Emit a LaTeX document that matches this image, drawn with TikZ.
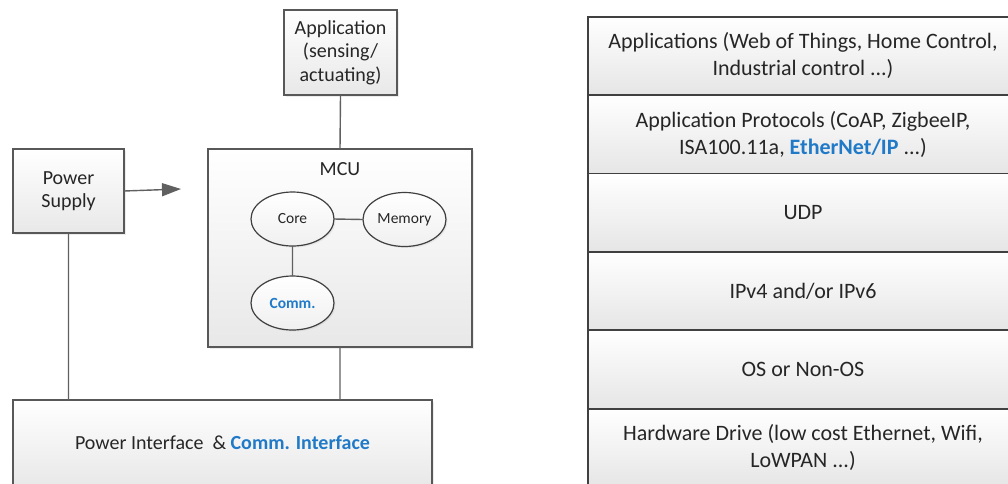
\documentclass[tikz,border=0pt]{standalone}
\usepackage{fontspec}
\setmainfont{Carlito}
\usetikzlibrary{positioning,shapes.geometric,arrows.meta,shadows}
\newcommand{\retegSzelesseg}{430pt}
\newcommand{\retegMagassag}{78.4pt}
\newcommand{\ellipszisSzel}{83pt}
\newcommand{\ellipszisMag}{54pt}
\definecolor{kekSzoveg}{RGB}{32,122,200}
\definecolor{keretSzurke}{RGB}{88,88,88}
\definecolor{vonalSzurke}{RGB}{96,96,96}
\tikzset{
	doboz/.style={draw=keretSzurke,line width=1.3pt,top color=white,bottom color=black!9,
		text=black!85,align=center,inner sep=0pt,outer sep=0pt,
		font=\fontsize{20}{23.5}\selectfont,
		drop shadow={opacity=0.15,shadow xshift=2pt,shadow yshift=-2pt}},
	resz/.style={ellipse,draw=black!75,line width=1.2pt,top color=white,bottom color=black!6,
		text=black!85,minimum width=\ellipszisSzel,minimum height=\ellipszisMag,inner sep=0pt,outer sep=0pt,
		font=\fontsize{15.5}{18}\selectfont,
		drop shadow={opacity=0.12,shadow xshift=1.5pt,shadow yshift=-1.5pt}},
	reteg/.style={draw=black!75,line width=1.8pt,top color=white,bottom color=black!10,
		text=black!85,align=center,inner sep=0pt,outer sep=0pt,
		minimum width=\retegSzelesseg,minimum height=\retegMagassag,
		font=\fontsize{22}{27}\selectfont},
	osszekotes/.style={draw=vonalSzurke,line width=1.4pt}
}

\begin{document}
\begin{tikzpicture}[x=1pt,y=-1pt]
	\useasboundingbox (0,0) rectangle (1008,483);
	\clip (0,0) rectangle (1008,483);
	% bal oldal: dobozok
	\node[doboz,minimum width=113pt,minimum height=85pt] (alkalmazas) at (340.5,52.5) {Application\\(sensing/\\actuating)};
	\node[doboz,minimum width=264pt,minimum height=198pt] (mcu) at (340,248) {};
	\node[text=black!85,font=\fontsize{20}{23.5}\selectfont,below=10pt of mcu.north] (mcuNev) {MCU};
	\node[doboz,minimum width=111pt,minimum height=84pt] (tap) at (68.5,191) {Power\\Supply};
	\node[doboz,minimum width=419pt,minimum height=86pt] (interfesz) at (222.5,443) {Power Interface\ \ \& \textcolor{kekSzoveg}{\bfseries Comm. Interface}};
	% MCU belseje
	\node[resz] (mag) at (292.5,219) {Core};
	\node[resz] (memoria) at (404.5,219.5) {Memory};
	\node[resz,text=kekSzoveg,font=\fontsize{15.5}{18}\selectfont\bfseries] (komm) at (292.5,303) {Comm.};
	% összekötések
	\coordinate (tapNyil) at (181,189);
	\draw[osszekotes] (alkalmazas.south)--(mcu.north)
		(mcu.south)--(mcu.south |- interfesz.north)
		(tap.south)--(tap.south |- interfesz.north)
		(mag.east)--(memoria.west)
		(mag.south)--(komm.north);
	\draw[osszekotes,-{Triangle[length=19pt,width=13pt]},fill=black!75] (tap.east)--(tapNyil);
	% jobb oldal: protokoll verem
	\node[reteg,anchor=north] (retegAlk) at (803,16.7) {Applications (Web of Things, Home Control,\\Industrial control ...)};
	\node[reteg,below=0pt of retegAlk] (retegProt) {Application Protocols (CoAP, ZigbeeIP,\\ISA100.11a, \textcolor{kekSzoveg}{\bfseries EtherNet/IP} ...)};
	\node[reteg,below=0pt of retegProt] (retegUdp) {UDP};
	\node[reteg,below=0pt of retegUdp] (retegIp) {IPv4 and/or IPv6};
	\node[reteg,below=0pt of retegIp] (retegOs) {OS or Non-OS};
	\node[reteg,below=0pt of retegOs] (retegHw) {Hardware Drive (low cost Ethernet, Wifi,\\LoWPAN ...)};
\end{tikzpicture}
\end{document}
